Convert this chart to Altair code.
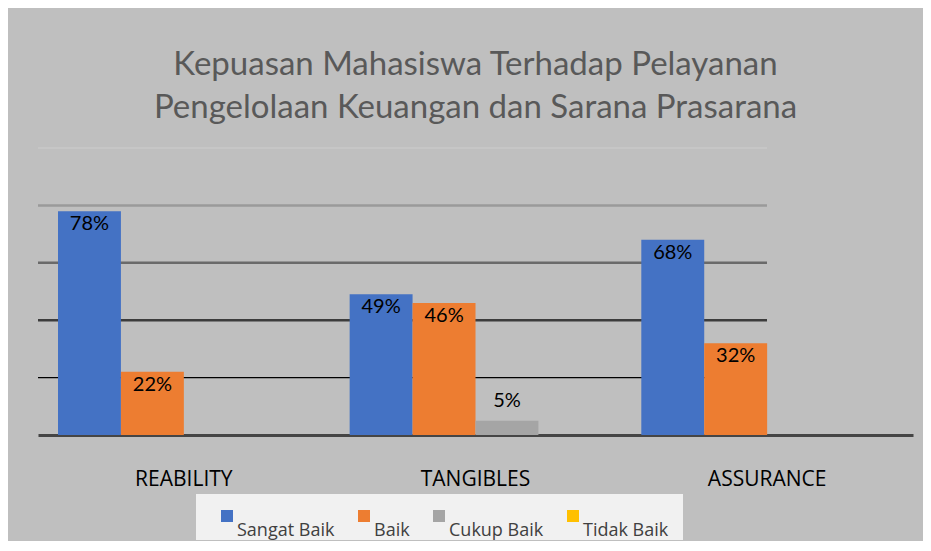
import altair as alt
import pandas as pd

categories = ["REABILITY", "TANGIBLES", "ASSURANCE"]
series = ["Sangat Baik", "Baik", "Cukup Baik", "Tidak Baik"]
sangat_baik = [78, 49, 68]
baik = [22, 46, 32]
cukup_baik = [0, 5, 0]
tidak_baik = [0, 0, 0]
grid_values = [20, 40, 60, 80, 100]

colors = ["#4472C4", "#ED7D31", "#A5A5A5", "#FFC000"]
grid_styles = {20: ("#000000", 1.2), 40: ("#3C3C3C", 2.5), 60: ("#6A6A6A", 2.5),
               80: ("#9A9A9A", 2.5), 100: ("#C8C8C8", 1.5)}

rows = []
for s, vals in zip(series, [sangat_baik, baik, cukup_baik, tidak_baik]):
    for c, v in zip(categories, vals):
        rows.append({"category": c, "series": s, "value": v, "label": f"{v}%"})
df = pd.DataFrame(rows)
grid_df = pd.DataFrame({"v": grid_values})

W, H = 875, 287
FONT = "Lato"

x_enc = alt.X("category:N", sort=categories,
              scale=alt.Scale(paddingInner=0.137, paddingOuter=0.0686),
              axis=alt.Axis(title=None, labelAngle=0, labelFont="Open Sans",
                            labelFontSize=21, labelColor="#000000", ticks=False,
                            labelPadding=33, domainColor="#454545", domainWidth=3,
                            grid=False))
xo_enc = alt.XOffset("series:N", sort=series,
                     scale=alt.Scale(paddingInner=0, paddingOuter=0))
y_enc = alt.Y("value:Q", scale=alt.Scale(domain=[0, 100], nice=False), axis=None)

# light panel behind the legend
legend_panel = alt.Chart(pd.DataFrame({"p": [0]})).mark_rect(color="#F1F1F1").encode(
    x=alt.value(158), x2=alt.value(645), y=alt.value(346), y2=alt.value(392))

grid_layers = []
for g in grid_values:
    col, sw = grid_styles[g]
    grid_layers.append(
        alt.Chart(grid_df).transform_filter(alt.datum.v == g)
        .mark_rule(color=col, strokeWidth=sw)
        .encode(y=alt.Y("v:Q", scale=alt.Scale(domain=[0, 100], nice=False), axis=None),
                x=alt.value(0), x2=alt.value(729))
    )

# square symbol raised above the label line, as in the original legend
raised_square = "M-1,-2 L1,-2 L1,0 L-1,0 Z"

bars = alt.Chart(df).mark_bar().encode(
    x=x_enc, xOffset=xo_enc, y=y_enc,
    color=alt.Color("series:N", sort=series,
                    scale=alt.Scale(domain=series, range=colors),
                    legend=alt.Legend(title=None,
                                      orient="none", legendX=180, legendY=365,
                                      direction="horizontal", symbolType=raised_square,
                                      symbolSize=144, symbolStrokeWidth=0,
                                      labelFont="Open Sans", labelFontSize=18,
                                      labelColor="#404040", labelBaseline="top",
                                      labelOffset=1, columnPadding=20, padding=0)),
)

labels_in = alt.Chart(df).transform_filter(alt.datum.value >= 10).mark_text(
    font=FONT, fontSize=20, color="#000000", baseline="top", dy=3
).encode(x=x_enc, xOffset=xo_enc, y=y_enc, text="label:N")

labels_out = alt.Chart(df).transform_filter(
    (alt.datum.value > 0) & (alt.datum.value < 10)
).mark_text(
    font=FONT, fontSize=20, color="#000000", baseline="alphabetic", dy=-14
).encode(x=x_enc, xOffset=xo_enc, y=y_enc, text="label:N")

chart = alt.layer(legend_panel, *grid_layers, bars, labels_in, labels_out).properties(
    width=W, height=H,
    title=alt.TitleParams(
        text=["Kepuasan Mahasiswa Terhadap Pelayanan",
              "Pengelolaan Keuangan dan Sarana Prasarana"],
        font=FONT, fontSize=33, fontWeight="normal", color="#595959",
        lineHeight=43, anchor="middle", offset=22),
    autosize=alt.AutoSizeParams(type="none"),
    padding={"left": 30, "top": 140, "right": 10, "bottom": 106},
    background="#BFBFBF",
).configure_view(stroke=None)

chart.save("out.html", embed_options={"renderer": "svg", "actions": False})
